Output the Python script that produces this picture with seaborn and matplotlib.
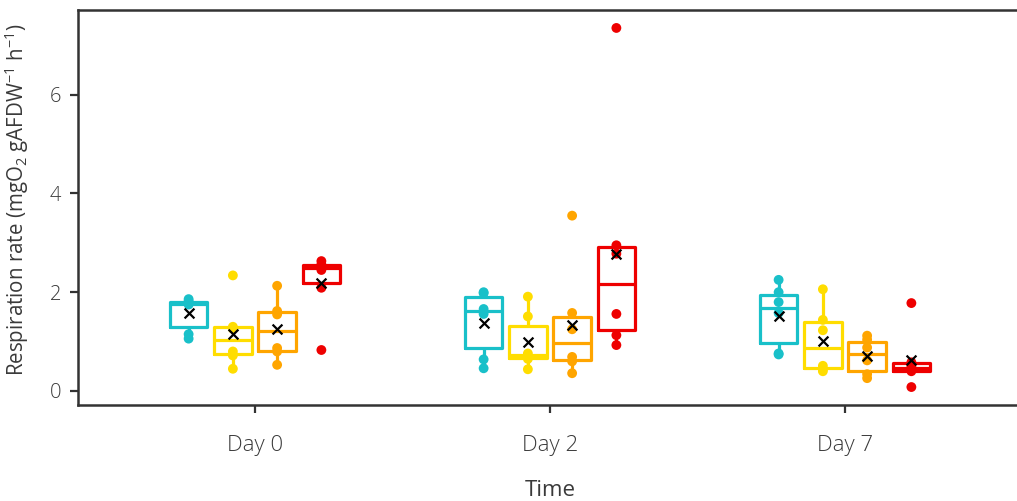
import numpy as np
import pandas as pd
import matplotlib
matplotlib.use("Agg")
import matplotlib.pyplot as plt
import seaborn as sns

# Sampling days (x categories) and the four treatments (hue levels)
days = ["Day 0", "Day 2", "Day 7"]
treatments = ["T1", "T2", "T3", "T4"]
palette = ["#19C0C9", "#FFDD00", "#FFA500", "#EE0000"]

# Respiration rates (mgO2 gAFDW-1 h-1), one list of replicates per day
rate_t1 = [[1.06, 1.15, 1.75, 1.78, 1.82, 1.86],
           [0.46, 0.64, 1.56, 1.66, 1.98, 2.00],
           [0.74, 0.76, 1.58, 1.80, 2.00, 2.25]]
rate_t2 = [[0.45, 0.72, 0.80, 1.26, 1.30, 2.34],
           [0.44, 0.65, 0.70, 0.76, 1.51, 1.91],
           [0.40, 0.44, 0.51, 1.23, 1.44, 2.06]]
rate_t3 = [[0.53, 0.80, 0.87, 1.55, 1.62, 2.13],
           [0.36, 0.60, 0.69, 1.25, 1.58, 3.55],
           [0.26, 0.34, 0.62, 0.88, 1.04, 1.12]]
rate_t4 = [[0.83, 2.09, 2.45, 2.53, 2.56, 2.63],
           [0.93, 1.13, 1.56, 2.78, 2.95, 7.35],
           [0.08, 0.40, 0.44, 0.50, 0.58, 1.78]]

yticks = [0, 2, 4, 6]

rows = []
for t, series in zip(treatments, [rate_t1, rate_t2, rate_t3, rate_t4]):
    for d, vals in zip(days, series):
        for v in vals:
            rows.append({"Time": d, "group": t, "rate": v})
df = pd.DataFrame(rows)

# dodge layout shared by boxes, points and means
total_width = 0.6
slot = total_width / len(treatments)
df["pos"] = (df["Time"].map({d: i for i, d in enumerate(days)})
             + (df["group"].map({t: i for i, t in enumerate(treatments)})
                - (len(treatments) - 1) / 2) * slot)
means = df.groupby(["Time", "group"], sort=False).agg(rate=("rate", "mean"),
                                                       pos=("pos", "first")).reset_index()

sns.set_theme(style="ticks")
plt.rcParams["font.family"] = ["Open Sans", "DejaVu Sans"]
plt.rcParams["font.weight"] = "light"
plt.rcParams["mathtext.fontset"] = "custom"
plt.rcParams["mathtext.rm"] = "Open Sans:light"
plt.rcParams["mathtext.default"] = "regular"

text_col = "#3a3a3a"
fig = plt.figure(figsize=(10.17, 5.01), dpi=100)
ax = fig.add_axes([78 / 1017, 96 / 501, 944 / 1017, 395 / 501])

sns.boxplot(data=df, x="Time", y="rate", hue="group", order=days,
            hue_order=treatments, palette=palette, width=total_width, gap=0.15,
            fill=False, showfliers=False, showcaps=False, linewidth=2.3,
            legend=False, ax=ax)

sns.scatterplot(data=df, x="pos", y="rate", hue="group", hue_order=treatments,
                palette=palette, s=50, edgecolor="none", legend=False,
                zorder=4, ax=ax)

sns.scatterplot(data=means, x="pos", y="rate", color="black", marker="x",
                s=50, linewidth=1.6, legend=False, zorder=5, ax=ax)

lo, hi = df["rate"].min(), df["rate"].max()
span = hi - lo
ax.set_ylim(lo - 0.05 * span, hi + 0.05 * span)
ax.set_xlim(-0.6, len(days) - 0.4)
ax.set_xticks(range(len(days)))
ax.set_xticklabels(days)
ax.set_yticks(yticks)

for side in ["left", "bottom", "top", "right"]:
    ax.spines[side].set_visible(True)
    ax.spines[side].set_color("#333333")
    ax.spines[side].set_linewidth(1.8)

ax.tick_params(axis="x", length=5.5, width=1.6, color="#333333", pad=16,
               labelsize=16, labelcolor=text_col)
ax.tick_params(axis="y", length=6, width=1.6, color="#333333", pad=6,
               labelsize=14.5, labelcolor=text_col)

ax.set_xlabel("Time", fontsize=16, color=text_col)
ax.set_ylabel("Respiration rate (mgO$_2$ gAFDW$^{-1}$ h$^{-1}$)",
              fontsize=14.8, color=text_col)
ax.xaxis.set_label_coords((550 - 78) / 944, -(480 - 405) / 395)
ax.xaxis.label.set_va("top")
ax.yaxis.set_label_coords(-(78 - 31) / 944, 0.52)

fig.savefig("out.png", dpi=100)
